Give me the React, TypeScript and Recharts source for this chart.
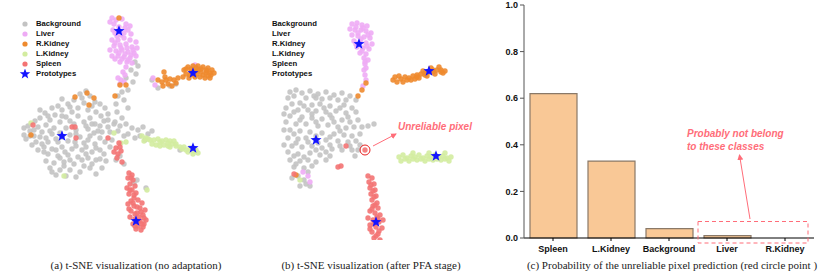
import { ScatterChart, Scatter, XAxis, YAxis, Legend, BarChart, Bar } from "recharts"

const SANS = "'Liberation Sans', Arial, sans-serif"
const SERIF = "'Liberation Serif', 'Times New Roman', serif"

const classNames = ["Background", "Liver", "R.Kidney", "L.Kidney", "Spleen", "Prototypes"]
const classColors = ["#c3c3c3", "#eeabf5", "#ee8a2e", "#d3eca0", "#f37373", "#1414ff"]

// t-SNE points, in figure pixel units (x right, y down)
// panel (a) no adaptation
const bgA = [
  [86, 91], [80, 94], [90, 96], [74, 100], [95, 102], [100, 104], [68, 104], [58, 106], [52, 108], [62, 110], [105, 108], [84, 103], [78, 108], [88, 110], [96, 112], [72, 112],
  [45, 113], [55, 115], [66, 117], [78, 116], [90, 118], [101, 116], [108, 114], [40, 118], [50, 120], [60, 122], [70, 121], [84, 122], [95, 124], [104, 121], [35, 121],
  [28, 126], [38, 127], [46, 125], [54, 128], [66, 128], [76, 130], [88, 129], [98, 131], [108, 127], [114, 124], [30, 131], [42, 132],
  [24, 135], [34, 136], [46, 138], [52, 134], [70, 135], [80, 137], [90, 136], [100, 138], [36, 142], [58, 142], [68, 141], [84, 143], [95, 144], [105, 142], [26, 139],
  [44, 147], [52, 149], [62, 147], [72, 149], [82, 150], [92, 152], [100, 150], [48, 154], [58, 156], [68, 155], [78, 157], [88, 158], [96, 160],
  [46, 161], [54, 163], [64, 162], [74, 164], [84, 166], [50, 168], [60, 170], [70, 170], [80, 172], [90, 168], [56, 175], [66, 176], [76, 177],
  [40, 110], [62, 99], [92, 124], [56, 139], [65, 152], [75, 142], [86, 147], [38, 150], [104, 154], [32, 145], [110, 132], [112, 140], [102, 168], [96, 174],
  [82, 98], [70, 107], [92, 106], [48, 116], [62, 116], [74, 124], [86, 126], [100, 126], [34, 130], [50, 131], [60, 133], [76, 134], [94, 133], [40, 137], [62, 137],
  [88, 140], [30, 136], [48, 142], [76, 146], [96, 148], [42, 144], [56, 150], [70, 160], [86, 154], [60, 158], [92, 164], [52, 172], [82, 160], [64, 166], [44, 152],
  [108, 120], [102, 132], [110, 147], [106, 161], [100, 159],
  [135, 62], [138, 66], [131, 70], [136, 74], [126, 78], [133, 82], [128, 90], [122, 92], [118, 96], [124, 100], [116, 104], [128, 108], [117, 112], [122, 118],
  [115, 122], [120, 126], [126, 124], [132, 128], [138, 130], [143, 127], [148, 134], [128, 134], [135, 138], [118, 131], [124, 136], [140, 136], [152, 131], [145, 140],
  [134, 183], [137, 180], [146, 188], [158, 88], [170, 86], [176, 84], [152, 80], [180, 150], [116, 160], [120, 156], [124, 164], [24, 128],
]
const liverA = [
  [112, 18], [116, 20], [122, 19], [126, 24], [130, 26], [114, 24], [110, 22], [128, 30], [124, 33], [113, 30], [131, 34], [117, 36],
  [112, 40], [118, 40], [124, 38], [130, 40], [136, 42], [114, 46], [120, 45], [126, 44], [132, 47], [137, 48], [110, 50], [116, 51], [122, 50], [128, 52], [134, 53],
  [112, 56], [118, 56], [124, 57], [130, 58], [136, 56], [120, 62], [127, 62], [132, 63],
  [115, 43], [121, 48], [127, 48], [133, 50], [119, 53], [125, 54], [131, 55], [115, 59], [122, 59], [128, 60], [119, 27], [125, 28], [115, 33], [121, 35],
  [126, 67], [123, 72], [125, 75], [121, 80], [118, 78], [124, 82], [120, 84], [153, 78], [155, 85], [195, 65],
]
const rkidneyA = [
  [184, 70], [188, 67], [193, 66], [198, 66], [203, 67], [208, 68], [212, 70], [186, 74], [191, 72], [196, 71], [201, 72], [206, 73], [211, 75],
  [189, 78], [195, 77], [200, 77], [205, 78], [210, 78], [183, 77], [199, 70], [194, 75], [207, 71],
  [186, 69], [191, 69], [196, 68], [201, 69], [206, 70], [210, 73], [190, 75], [197, 74], [203, 75], [208, 76], [214, 73],
  [158, 80], [162, 82], [166, 80], [170, 79], [174, 80], [176, 83], [168, 84], [163, 86], [172, 86], [165, 77], [178, 78], [164, 72],
  [119, 18], [120, 85], [126, 85], [75, 97], [87, 93], [94, 98], [89, 105], [115, 96], [31, 135],
]
const lkidneyA = [
  [142, 136], [146, 138], [150, 140], [144, 141], [154, 140], [158, 139], [162, 141], [166, 140], [170, 141], [156, 145], [160, 146], [164, 145], [168, 146],
  [172, 144], [176, 146], [180, 147], [184, 147], [152, 144], [174, 141], [186, 150], [190, 148], [196, 150], [198, 153], [193, 154], [188, 152],
  [160, 142], [168, 143], [176, 144], [182, 149], [194, 151], [148, 139], [170, 147],
  [31, 123], [114, 133], [121, 143], [126, 142], [64, 176], [147, 190],
]
const spleenA = [
  [129, 173], [132, 175], [128, 178], [133, 180], [130, 184], [135, 186], [127, 188], [132, 190], [136, 193], [129, 194], [134, 198], [131, 201],
  [138, 200], [142, 203], [128, 204], [134, 206], [140, 208], [145, 210], [131, 211], [137, 213], [143, 215], [130, 217], [135, 219], [140, 221],
  [146, 220], [133, 224], [138, 226], [143, 227], [136, 229], [141, 230], [129, 209], [144, 224],
  [131, 178], [130, 190], [134, 195], [133, 203], [137, 207], [141, 212], [135, 214], [139, 217], [138, 222], [135, 226], [142, 224], [144, 218],
  [72, 127], [75, 127], [76, 138], [108, 138], [33, 125],
  [116, 148], [120, 147], [114, 152], [118, 154], [121, 151], [117, 158], [122, 162], [119, 143],
]
const protoA = [[119, 31], [193, 73], [62, 136], [193, 148], [136, 221]]

// panel (b) after PFA stage
const bgB = [
  [290, 92], [296, 90], [302, 93], [310, 91], [318, 94], [326, 92], [334, 95], [342, 93], [350, 96], [356, 100], [288, 98], [306, 98], [322, 99], [338, 100],
  [292, 104], [300, 103], [312, 105], [320, 104], [330, 106], [344, 105], [352, 108], [286, 108], [298, 110], [308, 110], [316, 111], [326, 112], [336, 111], [346, 113], [356, 112],
  [290, 116], [302, 117], [312, 118], [322, 119], [332, 118], [342, 120], [350, 122], [358, 120], [286, 122], [296, 124], [306, 124], [318, 126], [328, 125], [338, 127], [346, 128],
  [290, 130], [300, 131], [310, 132], [322, 133], [334, 134], [344, 135], [352, 136], [360, 134], [288, 138], [298, 139], [306, 138], [326, 140], [338, 141], [348, 142], [356, 141],
  [292, 146], [302, 147], [312, 146], [322, 148], [332, 149], [342, 150], [352, 150], [288, 152], [298, 154], [310, 153], [320, 155], [330, 156],
  [290, 160], [300, 161], [308, 160], [316, 162], [294, 167], [304, 168], [312, 166], [298, 176], [304, 180], [310, 186], [306, 184], [292, 178],
  [294, 96], [314, 96], [330, 98], [346, 100], [304, 106], [324, 108], [340, 108], [294, 112], [312, 114], [330, 115], [348, 117], [300, 120], [316, 122], [334, 122],
  [354, 127], [294, 134], [316, 136], [330, 137], [340, 131], [296, 143], [308, 142], [318, 143], [330, 145], [350, 146], [294, 156], [304, 157], [316, 150], [326, 152],
  [296, 164], [308, 172], [300, 186], [284, 130], [284, 145],
  [362, 127], [368, 126], [374, 124], [360, 145], [358, 150], [355, 156], [316, 98], [284, 114], [340, 146], [326, 160],
]
const liverB = [
  [352, 24], [357, 23], [362, 25], [367, 26], [350, 29], [355, 30], [361, 30], [366, 31], [371, 33], [352, 35], [358, 36], [364, 37], [370, 38],
  [354, 41], [360, 42], [366, 43], [372, 44], [357, 47], [363, 48], [369, 49], [360, 53], [366, 54], [364, 58], [368, 60],
  [356, 27], [363, 28], [358, 33], [368, 35], [361, 39], [356, 44], [367, 46], [362, 51], [365, 62], [366, 68],
  [365, 64], [364, 70], [365, 75], [366, 80], [363, 86], [303, 172], [310, 182], [308, 176],
]
const rkidneyB = [
  [393, 80], [397, 82], [401, 79], [405, 77], [409, 78], [413, 76], [417, 75], [421, 74], [425, 73], [429, 72], [433, 70], [437, 70], [441, 70], [445, 71],
  [395, 77], [403, 82], [411, 80], [419, 78], [427, 76], [435, 74], [443, 73], [431, 68], [439, 67], [423, 71], [415, 79], [399, 76],
  [407, 80], [417, 77], [425, 75], [433, 72], [441, 72],
  [366, 83], [362, 90], [358, 96], [296, 175],
]
const lkidneyB = [
  [399, 157], [403, 155], [407, 158], [411, 156], [415, 157], [419, 155], [423, 158], [427, 156], [431, 157], [435, 155], [439, 157], [443, 156], [447, 158], [451, 157],
  [401, 161], [409, 161], [417, 160], [425, 161], [433, 160], [441, 160], [449, 161], [413, 153], [429, 153], [445, 153],
  [405, 159], [413, 159], [421, 159], [429, 159], [437, 159], [445, 159], [300, 180],
]
const spleenB = [
  [368, 176], [372, 178], [369, 182], [374, 184], [370, 188], [375, 190], [371, 194], [376, 196], [372, 200], [377, 203], [373, 206], [378, 208],
  [370, 211], [375, 213], [380, 215], [368, 218], [373, 220], [379, 222], [383, 220], [370, 225], [376, 227], [382, 228], [372, 232], [378, 234],
  [374, 238], [380, 240], [376, 243],
  [371, 185], [373, 191], [374, 197], [375, 205], [372, 209], [377, 217], [374, 224], [379, 231], [376, 236], [378, 219], [370, 229],
  [346, 146], [338, 167], [341, 166], [294, 174], [365, 150],
]
const protoB = [[359, 44], [429, 71], [316, 140], [436, 156], [376, 222]]

// bar chart
const barCats = ["Spleen", "L.Kidney", "Background", "Liver", "R.Kidney"]
const barProbs = [0.62, 0.33, 0.04, 0.01, 0]
const barTicks = [0, 0.2, 0.4, 0.6, 0.8, 1.0]

const pts = (a: number[][]) => a.map(([x, y]) => ({ x, y }))

const starPath = (cx: number, cy: number, R: number, r: number) => {
  let d = ""
  for (let i = 0; i < 10; i++) {
    const rad = i % 2 === 0 ? R : r
    const ang = -Math.PI / 2 + (i * Math.PI) / 5
    d += (i === 0 ? "M" : "L") + (cx + rad * Math.cos(ang)).toFixed(2) + "," + (cy + rad * Math.sin(ang)).toFixed(2)
  }
  return d + "Z"
}

const dot = (color: string) => (p: any) => <circle cx={p.cx} cy={p.cy} r={2.7} fill={color} fillOpacity={0.9} />
const star = (p: any) => <path d={starPath(p.cx, p.cy, 5.8, 2.4)} fill={classColors[5]} />

// keep the legend in class order (recharts sorts by name otherwise)
const ordered = (payload: any[]) =>
  [...(payload || [])].sort((a, b) => classNames.indexOf(a.value) - classNames.indexOf(b.value))

const LegendA = ({ payload }: any) => (
  <div style={{ fontFamily: SANS, fontWeight: "bold", fontSize: 7.7, color: "#111" }}>
    {ordered(payload).map((e: any) => (
      <div key={e.value} style={{ height: 10, display: "flex", alignItems: "center" }}>
        <svg width={12} height={10}>
          {e.value === "Prototypes" ? <path d={starPath(6, 5, 5.5, 2.3)} fill={e.color} /> : <circle cx={6} cy={5} r={2.6} fill={e.color} />}
        </svg>
        <span style={{ marginLeft: 5, lineHeight: "10px" }}>{e.value}</span>
      </div>
    ))}
  </div>
)

const LegendB = ({ payload }: any) => (
  <div style={{ fontFamily: SANS, fontWeight: "bold", fontSize: 7.7, color: "#111" }}>
    {ordered(payload).map((e: any) => (
      <div key={e.value} style={{ height: 10, lineHeight: "10px" }}>{e.value}</div>
    ))}
  </div>
)

function TsnePanel({ x0, w, sets, legend, legendLeft }: any) {
  return (
    <ScatterChart width={w} height={240} margin={{ top: 0, right: 0, bottom: 0, left: 0 }}>
      <XAxis type="number" dataKey="x" domain={[x0, x0 + w]} hide allowDataOverflow />
      <YAxis type="number" dataKey="y" domain={[0, 240]} reversed hide allowDataOverflow />
      <Legend
        layout="horizontal"
        verticalAlign="middle"
        align="center"
        content={legend}
        wrapperStyle={{ left: legendLeft, top: 19, width: "auto", height: "auto" }}
      />
      {sets.map((s: number[][], i: number) => (
        <Scatter
          key={classNames[i]}
          name={classNames[i]}
          data={pts(s)}
          fill={classColors[i]}
          legendType={i === 5 ? "star" : "circle"}
          shape={i === 5 ? star : dot(classColors[i])}
          isAnimationActive={false}
        />
      ))}
    </ScatterChart>
  )
}

export default function App() {
  const barData = barCats.map((name, i) => ({ name, p: barProbs[i] }))
  const tick = { fontSize: 9, fontWeight: "bold", fill: "#111", fontFamily: SANS }
  const red = "#ff6d79"
  const caption = { position: "absolute" as const, top: 259, fontFamily: SERIF, fontSize: 11, color: "#222", whiteSpace: "nowrap" as const, transform: "translateX(-50%)" }

  return (
    <div style={{ position: "relative", width: 831, height: 272, background: "#fff", overflow: "hidden" }}>
      <style>{`body{margin:0}`}</style>
      <div style={{ position: "absolute", left: 0, top: 0 }}>
        <TsnePanel x0={0} w={270} sets={[bgA, liverA, rkidneyA, lkidneyA, spleenA, protoA]} legend={LegendA} legendLeft={19} />
      </div>
      <div style={{ position: "absolute", left: 270, top: 0 }}>
        <TsnePanel x0={270} w={250} sets={[bgB, liverB, rkidneyB, lkidneyB, spleenB, protoB]} legend={LegendB} legendLeft={2} />
      </div>
      <div style={{ position: "absolute", left: 480, top: 0 }}>
        <BarChart width={351} height={272} data={barData} margin={{ top: 5, right: 17, bottom: 14, left: 14 }}>
          <XAxis dataKey="name" height={20} tickSize={3} tickMargin={5} stroke="#000" tick={tick} interval={0} />
          <XAxis xAxisId="top" orientation="top" dataKey="name" height={0} tick={false} tickLine={false} stroke="#7a7a7a" />
          <YAxis domain={[0, 1]} ticks={barTicks} width={30} tickSize={4} tickMargin={2} tickFormatter={(v: number) => v.toFixed(1)} stroke="#555" tick={tick} />
          <YAxis yAxisId="right" orientation="right" width={0} tick={false} tickLine={false} stroke="#7a7a7a" />
          <Bar dataKey="p" fill="#f9c896" stroke="#8a7968" strokeWidth={1.2} barSize={47} isAnimationActive={false} />
        </BarChart>
      </div>

      <svg width={831} height={272} style={{ position: "absolute", left: 0, top: 0, pointerEvents: "none" }}>
        <defs>
          <marker id="ah" markerWidth="6" markerHeight="6" refX="5" refY="3" orient="auto">
            <path d="M0,0 L6,3 L0,6 Z" fill={red} />
          </marker>
        </defs>
        <circle cx={365} cy={150} r={5} fill="none" stroke="#e82020" strokeWidth={1} />
        <line x1={373} y1={146} x2={396} y2={134} stroke={red} strokeWidth={1} markerEnd="url(#ah)" />
        <text x={398} y={129.5} fill={red} fontFamily={SANS} fontSize={10} fontStyle="italic" fontWeight="bold">Unreliable pixel</text>
        <text x={687} y={137} fill={red} fontFamily={SANS} fontSize={10} fontStyle="italic" fontWeight="bold">Probably not belong</text>
        <text x={687} y={150} fill={red} fontFamily={SANS} fontSize={10} fontStyle="italic" fontWeight="bold">to these classes</text>
        <line x1={750} y1={219} x2={739.5} y2={155} stroke={red} strokeWidth={1} markerEnd="url(#ah)" />
        <rect x={698} y={221.5} width={110} height={21.5} fill="none" stroke={red} strokeWidth={1} strokeDasharray="4 3" />
      </svg>

      <div style={{ ...caption, left: 136 }}>(a) t-SNE visualization (no adaptation)</div>
      <div style={{ ...caption, left: 371 }}>(b) t-SNE visualization (after PFA stage)</div>
      <div style={{ ...caption, left: 672 }}>(c) Probability of the unreliable pixel prediction (red circle point )</div>
    </div>
  )
}
